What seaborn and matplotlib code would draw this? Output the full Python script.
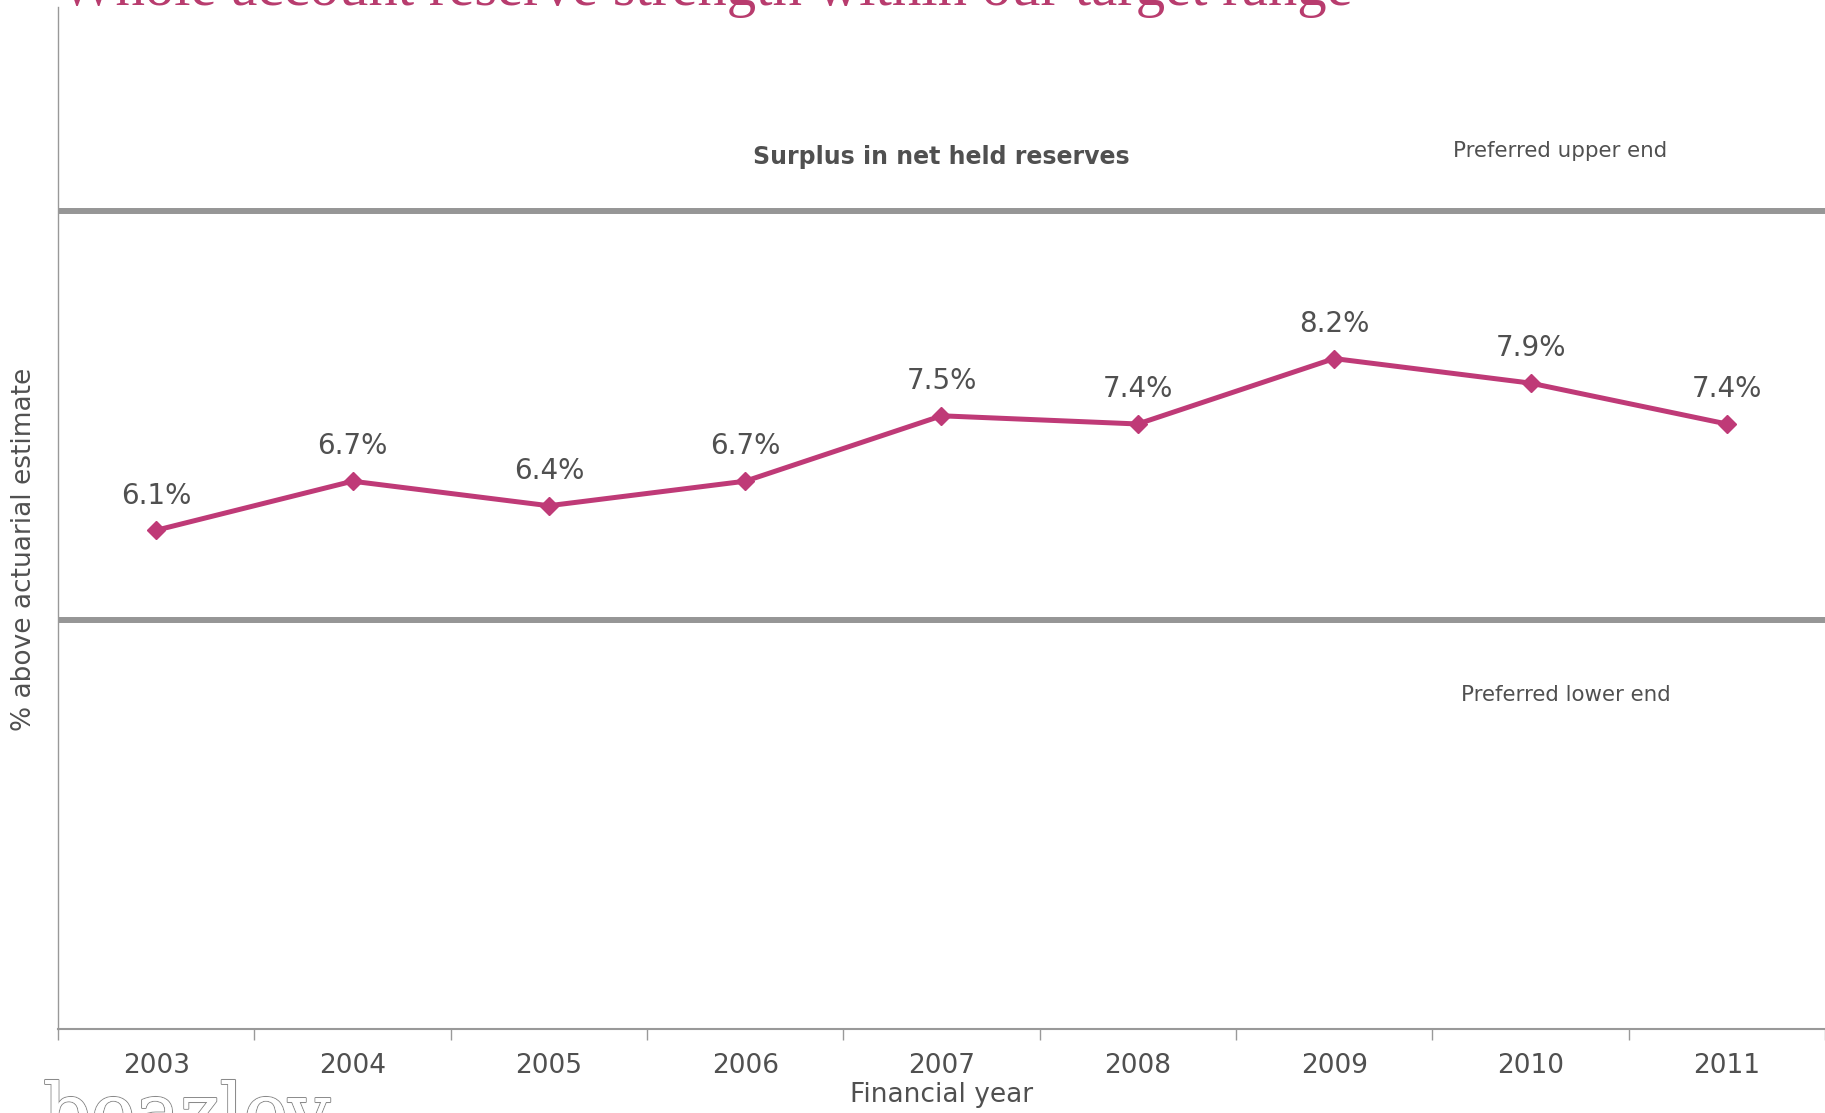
import matplotlib
matplotlib.use("Agg")
import matplotlib.pyplot as plt
import matplotlib.patheffects as pe
from matplotlib.ticker import FixedLocator, NullFormatter
import pandas as pd
import seaborn as sns

years = ["2003", "2004", "2005", "2006", "2007", "2008", "2009", "2010", "2011"]
surplus = [6.1, 6.7, 6.4, 6.7, 7.5, 7.4, 8.2, 7.9, 7.4]
band_upper = 10.0
band_lower = 5.0

title = "Whole account reserve strength within our target range"
series_name = "Surplus in net held reserves"
upper_label = "Preferred upper end"
lower_label = "Preferred lower end"
x_label = "Financial year"
y_label = "% above actuarial estimate"

PINK = "#BF3A77"
TEXT = "#505050"
GRID = "#969696"

sns.set_theme(style="white")
plt.rcParams["font.family"] = ["DejaVu Sans"]

df = pd.DataFrame({"year": years, "surplus": surplus})

fig = plt.figure(figsize=(18.25, 11.13), dpi=100)
ax = fig.add_axes([58 / 1825, 84 / 1113, 1 - 58 / 1825, 1022 / 1113])

ax.axhline(band_upper, color=GRID, lw=4.3, zorder=1)
ax.axhline(band_lower, color=GRID, lw=4.3, zorder=1)

sns.lineplot(data=df, x="year", y="surplus", sort=False, color=PINK,
             lw=3.6, marker="D", markersize=9, markeredgecolor=PINK,
             markeredgewidth=1, ax=ax, zorder=3)

for i, v in enumerate(surplus):
    ax.annotate(f"{v:.1f}%", (i, v), xytext=(0, 25), textcoords="offset points",
                ha="center", va="center", fontsize=20, color=TEXT)

ax.set_xlim(-0.5, len(years) - 0.5)
ax.set_ylim(0, 12.5)
ax.set_yticks([])

# category labels sit in the middle of each band; tick marks go on the band edges
ax.xaxis.set_minor_locator(FixedLocator([i - 0.5 for i in range(len(years) + 1)]))
ax.xaxis.set_minor_formatter(NullFormatter())
ax.tick_params(axis="x", which="major", bottom=True, length=0, pad=17.5,
               labelsize=19, labelcolor=TEXT)
ax.tick_params(axis="x", which="minor", bottom=True, length=8, width=1,
               color="#999999", direction="out")

for side in ["top", "right"]:
    ax.spines[side].set_visible(False)
ax.spines["left"].set_color("#999999")
ax.spines["left"].set_linewidth(1)
ax.spines["bottom"].set_color("#999999")
ax.spines["bottom"].set_linewidth(1.5)

ax.set_xlabel(x_label, fontsize=19, color=TEXT, labelpad=2)
ax.set_ylabel(y_label, fontsize=19, color=TEXT)
ax.yaxis.set_label_coords(-0.012, 0.469)

ax.text(4, 10.67, series_name, ha="center", va="center", fontsize=17,
        fontweight="bold", color=TEXT)
ax.text(7.15, 10.74, upper_label, ha="center", va="center", fontsize=15.4, color=TEXT)
ax.text(7.18, 4.09, lower_label, ha="center", va="center", fontsize=15.4, color=TEXT)

fig.text(60 / 1825, 1 - 5 / 1113, title, ha="left", va="baseline",
         fontsize=42.3, color="#B83C6E", family=["Liberation Serif"])

logo = fig.text(43 / 1825, -24 / 1113, "beazley", ha="left", va="baseline",
                fontsize=54, color="white", family=["DejaVu Serif"])
logo.set_path_effects([pe.withStroke(linewidth=1.5, foreground="#8a8a8a"), pe.Normal()])

fig.savefig("out.png", dpi=100)
